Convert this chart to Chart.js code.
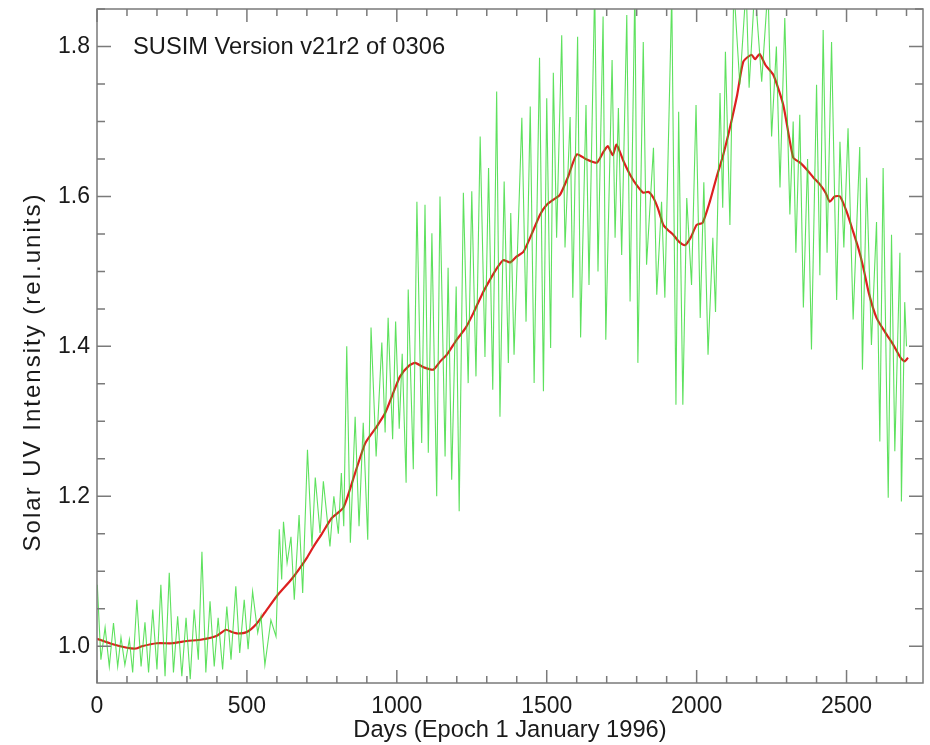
<!DOCTYPE html>
<html>
<head>
<meta charset="utf-8">
<script src="https://cdn.jsdelivr.net/npm/chart.js@4.4.0/dist/chart.umd.min.js"></script>
<style>
  body { margin: 0; background: #fff; }
  canvas { display: block; }
</style>
</head>
<body>
<canvas id="chart" width="930" height="745"></canvas>
<script>
const xTicks = [0, 500, 1000, 1500, 2000, 2500];
const yTicks = [1.0, 1.2, 1.4, 1.6, 1.8];

// smoothed curve (red)
const redDays = [0, 50, 100, 130, 150, 200, 250, 300, 350, 400, 430, 450, 470, 500, 530, 560, 600, 650, 700, 722,
  750, 783, 822, 860, 895, 933, 961, 990, 1011, 1040, 1061, 1090, 1122, 1145, 1167, 1200, 1230, 1256, 1285, 1311,
  1335, 1355, 1378, 1400, 1422, 1450, 1478, 1500, 1520, 1544, 1570, 1600, 1630, 1667, 1690, 1704, 1720, 1733, 1755, 1778,
  1800, 1822, 1840, 1856, 1870, 1889, 1905, 1922, 1940, 1961, 1980, 2000, 2020, 2044, 2066, 2089, 2110, 2135, 2156, 2183,
  2195, 2210, 2230, 2256, 2289, 2322, 2345, 2367, 2390, 2411, 2430, 2444, 2460, 2478, 2500, 2522, 2540, 2556, 2575, 2600,
  2630, 2656, 2680, 2694, 2705];
const redValues = [1.010, 1.003, 0.998, 0.997, 1.000, 1.004, 1.004, 1.007, 1.009, 1.014, 1.022, 1.019, 1.017, 1.019, 1.029, 1.045, 1.067, 1.090, 1.118, 1.133,
  1.150, 1.171, 1.185, 1.230, 1.271, 1.293, 1.311, 1.340, 1.360, 1.374, 1.378, 1.372, 1.369, 1.380, 1.389, 1.409, 1.425, 1.445, 1.470, 1.489,
  1.505, 1.515, 1.512, 1.520, 1.526, 1.550, 1.576, 1.589, 1.595, 1.602, 1.625, 1.656, 1.650, 1.645, 1.660, 1.667, 1.655, 1.669, 1.648, 1.629,
  1.615, 1.605, 1.606, 1.598, 1.585, 1.562, 1.555, 1.549, 1.540, 1.535, 1.545, 1.562, 1.565, 1.593, 1.625, 1.656, 1.690, 1.735, 1.780, 1.789,
  1.783, 1.790, 1.775, 1.762, 1.722, 1.652, 1.645, 1.636, 1.625, 1.616, 1.605, 1.593, 1.600, 1.600, 1.580, 1.553, 1.530, 1.505, 1.470, 1.438,
  1.418, 1.402, 1.385, 1.380, 1.385];

// daily measurements (green), read as successive peaks and troughs
const greenDays = [1, 13, 27, 41, 55, 69, 80, 93, 108, 119, 133, 147, 160, 172, 186, 200, 213, 227, 241, 255,
  269, 283, 297, 311, 324, 338, 350, 363, 377, 391, 404, 419, 433, 447, 463, 476, 491, 504, 519, 536,
  547, 560, 580, 597, 608, 616, 622, 634, 647, 658, 674, 686, 702, 717, 728, 744, 755, 777, 790, 805,
  815, 823, 833, 845, 861, 874, 888, 903, 914, 931, 950, 961, 971, 986, 996, 1008, 1018, 1031, 1038, 1055,
  1067, 1083, 1094, 1105, 1117, 1133, 1144, 1161, 1171, 1183, 1198, 1208, 1222, 1238, 1250, 1264, 1278, 1294, 1306, 1320,
  1333, 1344, 1358, 1372, 1380, 1391, 1417, 1431, 1445, 1458, 1476, 1489, 1500, 1513, 1522, 1533, 1550, 1561, 1578, 1587,
  1603, 1613, 1631, 1641, 1660, 1671, 1688, 1697, 1718, 1728, 1739, 1750, 1767, 1778, 1794, 1804, 1822, 1833, 1856, 1867,
  1883, 1894, 1917, 1931, 1940, 1954, 1967, 1983, 1998, 2012, 2024, 2038, 2054, 2063, 2078, 2087, 2096, 2111, 2124, 2144,
  2165, 2175, 2194, 2217, 2238, 2250, 2266, 2278, 2294, 2311, 2322, 2331, 2344, 2356, 2370, 2383, 2400, 2411, 2422, 2435,
  2450, 2467, 2478, 2491, 2505, 2522, 2544, 2553, 2567, 2583, 2600, 2611, 2622, 2639, 2650, 2661, 2678, 2683, 2694, 2700];
const greenValues = [1.082, 0.982, 1.025, 0.973, 1.031, 0.973, 1.012, 0.975, 1.009, 0.965, 1.062, 0.973, 1.032, 0.965, 1.049, 0.969, 1.082, 0.960, 1.098, 0.965,
  1.040, 0.960, 1.038, 0.956, 1.049, 0.982, 1.126, 0.965, 1.060, 0.973, 1.038, 0.969, 1.053, 0.982, 1.080, 0.991, 1.062, 0.996, 1.073, 1.018,
  1.040, 0.975, 1.035, 1.013, 1.156, 1.089, 1.166, 1.111, 1.146, 1.062, 1.175, 1.071, 1.262, 1.133, 1.225, 1.151, 1.220, 1.133, 1.200, 1.150,
  1.231, 1.160, 1.400, 1.138, 1.306, 1.160, 1.298, 1.142, 1.425, 1.253, 1.405, 1.285, 1.438, 1.276, 1.433, 1.290, 1.390, 1.218, 1.476, 1.236,
  1.593, 1.271, 1.589, 1.258, 1.551, 1.200, 1.600, 1.253, 1.505, 1.222, 1.480, 1.180, 1.605, 1.351, 1.607, 1.360, 1.680, 1.386, 1.638, 1.342,
  1.740, 1.306, 1.620, 1.378, 1.578, 1.389, 1.705, 1.433, 1.720, 1.351, 1.785, 1.340, 1.731, 1.398, 1.765, 1.545, 1.815, 1.532, 1.706, 1.465,
  1.813, 1.412, 1.722, 1.482, 1.880, 1.500, 1.840, 1.409, 1.782, 1.545, 1.718, 1.522, 1.842, 1.460, 1.880, 1.378, 1.806, 1.509, 1.665, 1.469,
  1.593, 1.465, 1.870, 1.322, 1.713, 1.322, 1.598, 1.482, 1.722, 1.438, 1.619, 1.389, 1.545, 1.446, 1.738, 1.585, 1.793, 1.562, 1.880, 1.749,
  1.880, 1.745, 1.880, 1.753, 1.880, 1.680, 1.800, 1.612, 1.838, 1.576, 1.700, 1.525, 1.709, 1.452, 1.650, 1.396, 1.749, 1.495, 1.822, 1.525,
  1.806, 1.462, 1.673, 1.532, 1.691, 1.436, 1.666, 1.369, 1.625, 1.402, 1.566, 1.273, 1.638, 1.198, 1.549, 1.260, 1.525, 1.193, 1.459, 1.400];

const FONT = '"Liberation Sans", Arial, Helvetica, sans-serif';
const INK = '#1a1a1a';
const FRAME = '#7a7a7a';

const toPoints = (xs, ys) => xs.map((d, i) => ({ x: d, y: ys[i] }));

// frame, inward ticks on all four sides, annotation and y title
const framePlugin = {
  id: 'frame',
  afterDatasetsDraw(chart) {
    const { ctx, chartArea: a, scales: { x, y } } = chart;
    ctx.save();
    ctx.strokeStyle = FRAME;
    ctx.lineWidth = 1.5;
    ctx.strokeRect(a.left, a.top, a.right - a.left, a.bottom - a.top);
    ctx.beginPath();
    for (let d = 0; d <= x.max; d += 100) {
      const px = x.getPixelForValue(d);
      const len = d % 500 === 0 ? 13 : 7;
      ctx.moveTo(px, a.bottom); ctx.lineTo(px, a.bottom - len);
      ctx.moveTo(px, a.top); ctx.lineTo(px, a.top + len);
    }
    for (let k = 20; k <= 37; k++) {
      const v = k * 0.05;
      if (v < y.min || v > y.max) continue;
      const py = y.getPixelForValue(v);
      const len = k % 4 === 0 ? 14 : 8;
      ctx.moveTo(a.left, py); ctx.lineTo(a.left + len, py);
      ctx.moveTo(a.right, py); ctx.lineTo(a.right - len, py);
    }
    ctx.stroke();

    ctx.fillStyle = INK;
    ctx.font = '23.7px ' + FONT;
    ctx.textBaseline = 'middle';
    ctx.fillText('SUSIM Version v21r2 of 0306', 133, 47);

    // y title, rotated
    ctx.translate(33, 372);
    ctx.rotate(-Math.PI / 2);
    ctx.textAlign = 'center';
    ctx.font = '24px ' + FONT;
    ctx.letterSpacing = '2px';
    ctx.fillText('Solar UV Intensity (rel.units)', 0, 0);
    ctx.restore();
  }
};

new Chart(document.getElementById('chart'), {
  type: 'scatter',
  data: {
    datasets: [
      {
        data: toPoints(greenDays, greenValues),
        showLine: true,
        borderColor: 'rgba(40,215,40,0.75)',
        borderWidth: 1.1,
        pointRadius: 0,
        tension: 0
      },
      {
        data: toPoints(redDays, redValues),
        showLine: true,
        borderColor: '#dd2020',
        borderWidth: 2.2,
        pointRadius: 0,
        tension: 0.2
      }
    ]
  },
  options: {
    responsive: false,
    animation: false,
    layout: { padding: { top: 9, right: 7, left: 0, bottom: 0 } },
    plugins: { legend: { display: false }, tooltip: { enabled: false } },
    scales: {
      x: {
        type: 'linear',
        min: 0,
        max: 2755,
        grid: { display: false, drawTicks: false },
        border: { display: false },
        afterBuildTicks: s => { s.ticks = xTicks.map(v => ({ value: v })); },
        afterFit: s => { s.height = 62; s.paddingLeft = 0; s.paddingRight = 0; },
        ticks: { color: INK, font: { family: FONT, size: 23 }, padding: 10, maxRotation: 0, autoSkip: false, callback: v => String(v) },
        title: { display: true, text: 'Days (Epoch 1 January 1996)', color: INK, font: { family: FONT, size: 23.7 }, padding: { top: 0, bottom: 0 } }
      },
      y: {
        min: 0.951,
        max: 1.850,
        grid: { display: false, drawTicks: false },
        border: { display: false },
        afterBuildTicks: s => { s.ticks = yTicks.map(v => ({ value: v })); },
        afterFit: s => { s.width = 97; s.paddingTop = 0; s.paddingBottom = 0; },
        ticks: { color: INK, font: { family: FONT, size: 23 }, padding: 7, callback: v => v.toFixed(1) }
      }
    }
  },
  plugins: [framePlugin]
});
</script>
</body>
</html>
